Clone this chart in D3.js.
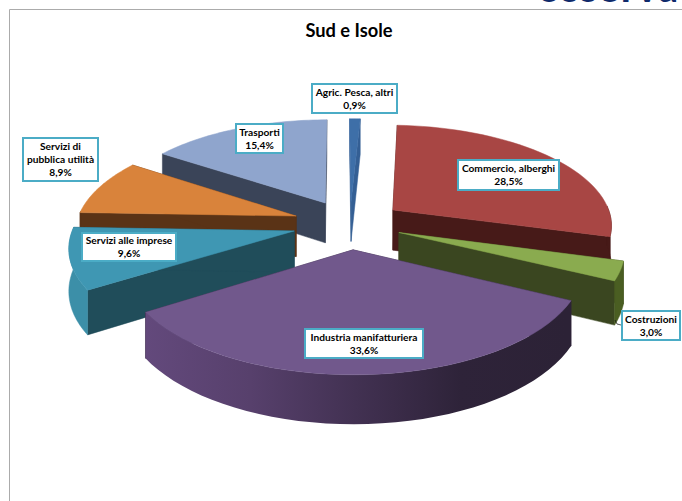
<!DOCTYPE html>
<html><head><meta charset="utf-8">
<script src="https://cdn.jsdelivr.net/npm/d3@7"></script>
<style>html,body{margin:0;padding:0;background:#fff}svg{display:block}</style>
</head><body><svg id="c" width="682" height="501"></svg>
<script>
const title = "Sud e Isole";
const categories = ["Agric. Pesca, altri","Commercio, alberghi","Costruzioni","Industria manifatturiera","Servizi alle imprese","Servizi di pubblica utilità","Trasporti"];
const values = [0.9,28.5,3.0,33.6,9.6,8.9,15.4];
const valueLabels = ["0,9%","28,5%","3,0%","33,6%","9,6%","8,9%","15,4%"];
const labelLines = [["Agric. Pesca, altri"],["Commercio, alberghi"],["Costruzioni"],["Industria manifatturiera"],["Servizi alle imprese"],["Servizi di","pubblica utilità"],["Trasporti"]];
const topColors = ["#3E6FA8","#A84644","#8AAB4F","#71588C","#3F97B3","#D9833B","#8FA5CD"];
const wallColors = ["#345F94","#471A18","#3A4620","#2E2339","#204D5A","#5A3316","#3A4458"];
const arcColors = ["#345F94","#471A18","#4A5E22","#2E2339","#3C8FA8","#5A3316","#3A4458"];
// label boxes: x0,x1,y0,y1
const labelBoxes = [[312,397,84,113],[458,559,160,190],[622,680,311,340],[305,423,329,358],[82,176,233,261],[23,98,138,181],[236,283,124,153]];
const drawOrder = [6,0,1,5,4,2,3];
const explosion = [0.23,0.245,0.235,0.25,0.26,0.26,0.245];

const W=682,H=501, cx=350, cy=224, RX=220, RY=100, K=0.137, DEPTH=41;
const startDeg=-0.4;
const svg=d3.select("#c");
const defs=svg.append("defs");
const pie=d3.pie().sort(null).startAngle(startDeg*Math.PI/180).endAngle((360+startDeg)*Math.PI/180);
const arcs=pie(values);

function proj(px,py,z){ // py>0 toward viewer
  const s=1/(1-K*py);
  return [cx+RX*px*s, cy+RY*py*s+z*DEPTH*s];
}
const line=d3.line();
svg.append("rect").attr("width",W).attr("height",H).attr("fill","#fff");
svg.append("path").attr("d",line([[9.5,501],[9.5,9.5],[682,9.5]])).attr("fill","none").attr("stroke","#ababab").attr("stroke-width",1);
svg.append("text").attr("x",538).attr("y",1.5).attr("font-family","Lato").attr("font-weight",900).attr("font-size",38).attr("fill","#0f2a6b").attr("textLength",140).text("osserva");

drawOrder.forEach(i=>{
  const a=arcs[i], mid=(a.startAngle+a.endAngle)/2, e=explosion[i];
  const ex=e*Math.sin(mid), ey=-e*Math.cos(mid);
  const pt=(t,r,z)=>proj(ex+r*Math.sin(t), ey-r*Math.cos(t), z);
  const ts=d3.range(0,41).map(j=>a.startAngle+(a.endAngle-a.startAngle)*j/40);
  const g=svg.append("g");
  [a.startAngle,a.endAngle].forEach(t=>{
    g.append("path").attr("d",line([pt(t,0,0),pt(t,1,0),pt(t,1,1),pt(t,0,1)])+"Z").attr("fill",wallColors[i]).attr("stroke",wallColors[i]).attr("stroke-width",.5);
  });
  const vis=ts.filter(t=>Math.cos(t)<0.05);
  if(vis.length>1){
    const top=vis.map(t=>pt(t,1,0)), bot=vis.map(t=>pt(t,1,1)).reverse();
    let fill=arcColors[i];
    if(i===3){
      const gr=defs.append("linearGradient").attr("id","gw").attr("gradientUnits","userSpaceOnUse").attr("x1",145).attr("x2",566).attr("y1",0).attr("y2",0);
      [[0,"#63497C"],[0.25,"#57406C"],[0.5,"#423152"],[0.75,"#2E2339"],[1,"#2C2236"]].forEach(s=>gr.append("stop").attr("offset",s[0]).attr("stop-color",s[1]));
      fill="url(#gw)";
    }
    g.append("path").attr("d",line(top.concat(bot))+"Z").attr("fill",fill).attr("stroke",i===3?"none":fill).attr("stroke-width",.5);
  }
  const face=[pt(0,0,0)].concat(ts.map(t=>pt(t,1,0)));
  g.append("path").attr("d",line(face)+"Z").attr("fill",topColors[i]).attr("stroke",topColors[i]).attr("stroke-width",.5);
});

svg.append("text").attr("x",349).attr("y",37).attr("text-anchor","middle").attr("font-family","Lato").attr("font-weight",700).attr("font-size",18.3).attr("fill","#000").text(title);
svg.append("path").attr("d",line([[615,320],[617,324],[621,325]])).attr("fill","none").attr("stroke","#111").attr("stroke-width",.7);
categories.forEach((c,i)=>{
  const b=labelBoxes[i];
  svg.append("rect").attr("x",b[0]).attr("y",b[2]).attr("width",b[1]-b[0]).attr("height",b[3]-b[2]).attr("fill","#fff").attr("stroke","#4BACC6").attr("stroke-width",2);
  const lines=labelLines[i].concat([valueLabels[i]]);
  const tx=svg.append("text").attr("text-anchor","middle").attr("font-family","Lato").attr("font-weight",700).attr("font-size",10.2).attr("fill","#000");
  const h=13, y0=(b[2]+b[3])/2-(lines.length*h)/2+10;
  lines.forEach((l,k)=>tx.append("tspan").attr("x",(b[0]+b[1])/2).attr("y",y0+k*h).text(l));
});
</script></body></html>
